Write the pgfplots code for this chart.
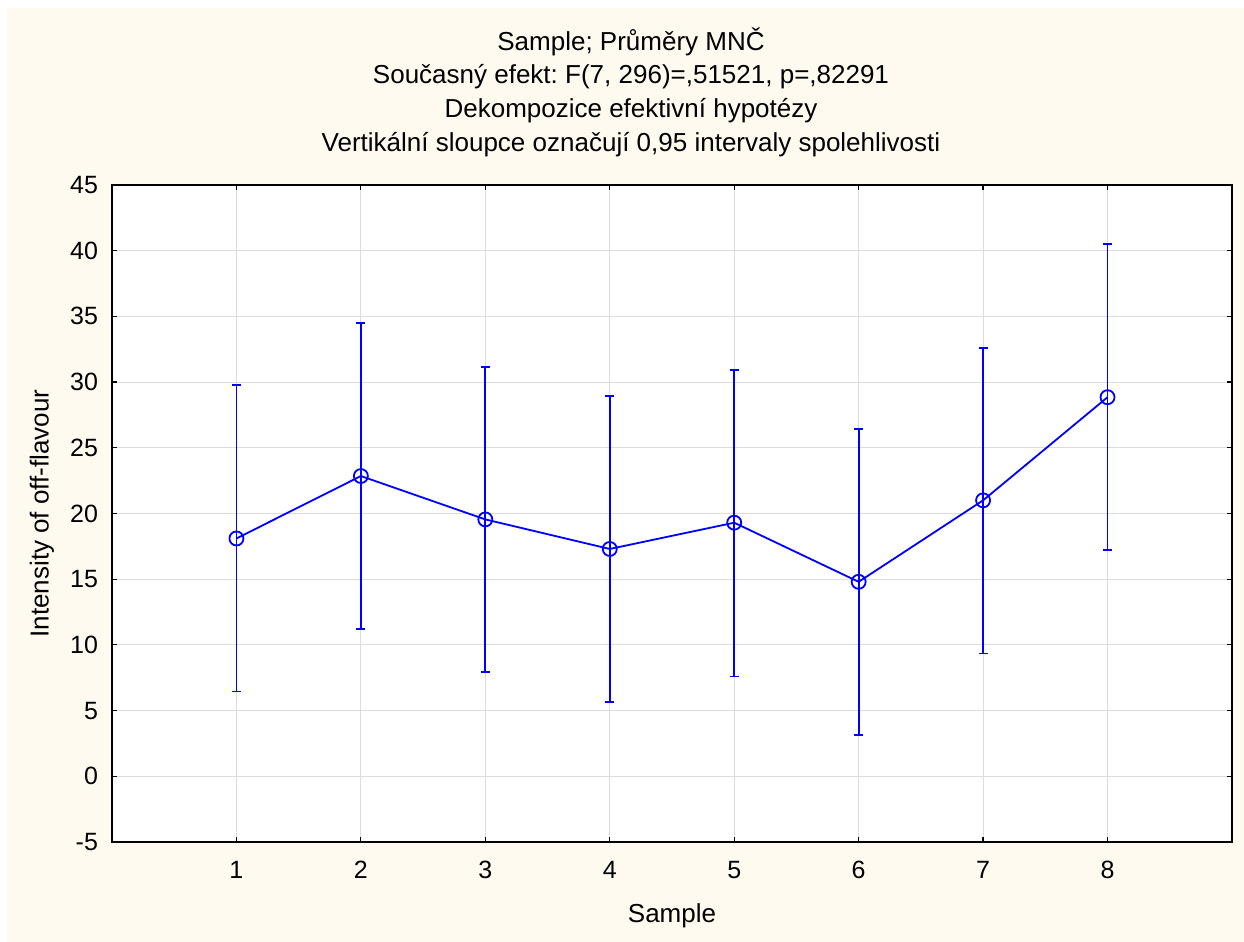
\documentclass[border=0pt]{standalone}
\usepackage{fontspec}
\setmainfont{Liberation Sans}
\usepackage{pgfplots}
\pgfplotsset{compat=1.18}
\definecolor{cream}{RGB}{254,250,240}
\definecolor{gridgray}{RGB}{220,220,220}
\definecolor{plotblue}{RGB}{0,0,255}
\frenchspacing
\begin{document}
\begin{tikzpicture}
\fill[white] (0pt,0pt) rectangle (622pt,471pt);
\fill[cream] (3.5pt,0pt) rectangle (622pt,467pt);
\node[align=center, font=\fontsize{13}{16.8}\selectfont] at (315.5pt,425pt)
  {Sample; Průměry MNČ\\Současný efekt: F(7, 296)=,51521, p=,82291\\Dekompozice efektivní hypotézy\\Vertikální sloupce označují 0,95 intervaly spolehlivosti};
\begin{axis}[
  at={(56pt,50pt)}, anchor=south west,
  scale only axis, width=560pt, height=328.5pt,
  xmin=0, xmax=9, ymin=-5, ymax=45,
  xtick={1,...,8}, ytick={-5,0,...,45},
  grid=major, major grid style={gridgray, line width=0.5pt},
  tick align=inside, tick pos=both, major tick length=2.5pt,
  axis line style={line width=1pt}, tick style={black, line width=0.6pt},
  axis background/.style={fill=white},
  ticklabel style={font=\fontsize{12.5}{14}\selectfont},
  xticklabel style={yshift=-6pt},
  yticklabel style={xshift=-3.5pt},
  /pgf/number format/assume math mode=true,
  xlabel={Sample}, ylabel={Intensity of off-flavour},
  label style={font=\fontsize{13}{15}\selectfont},
  xlabel style={at={(axis description cs:0.5,-0.1125)}, anchor=center},
  ylabel style={at={(axis description cs:-0.0625,0.5)}, anchor=center},
]
\addplot[color=plotblue, line width=0.9pt, mark=o, mark size=3.5pt,
  mark options={line width=0.9pt},
  error bars/.cd, y dir=both, y explicit,
  error bar style={line width=0.9pt, plotblue},
  error mark options={rotate=90, mark size=2.25pt, line width=0.9pt, plotblue}]
  table[x=x, y=y, y error plus=ep, y error minus=em] {
x y ep em
1 18.10 11.65 11.65
2 22.85 11.65 11.65
3 19.55 11.60 11.60
4 17.30 11.65 11.65
5 19.30 11.60 11.70
6 14.80 11.60 11.65
7 21.00 11.60 11.65
8 28.85 11.65 11.65
};
\end{axis}
\end{tikzpicture}
\end{document}
